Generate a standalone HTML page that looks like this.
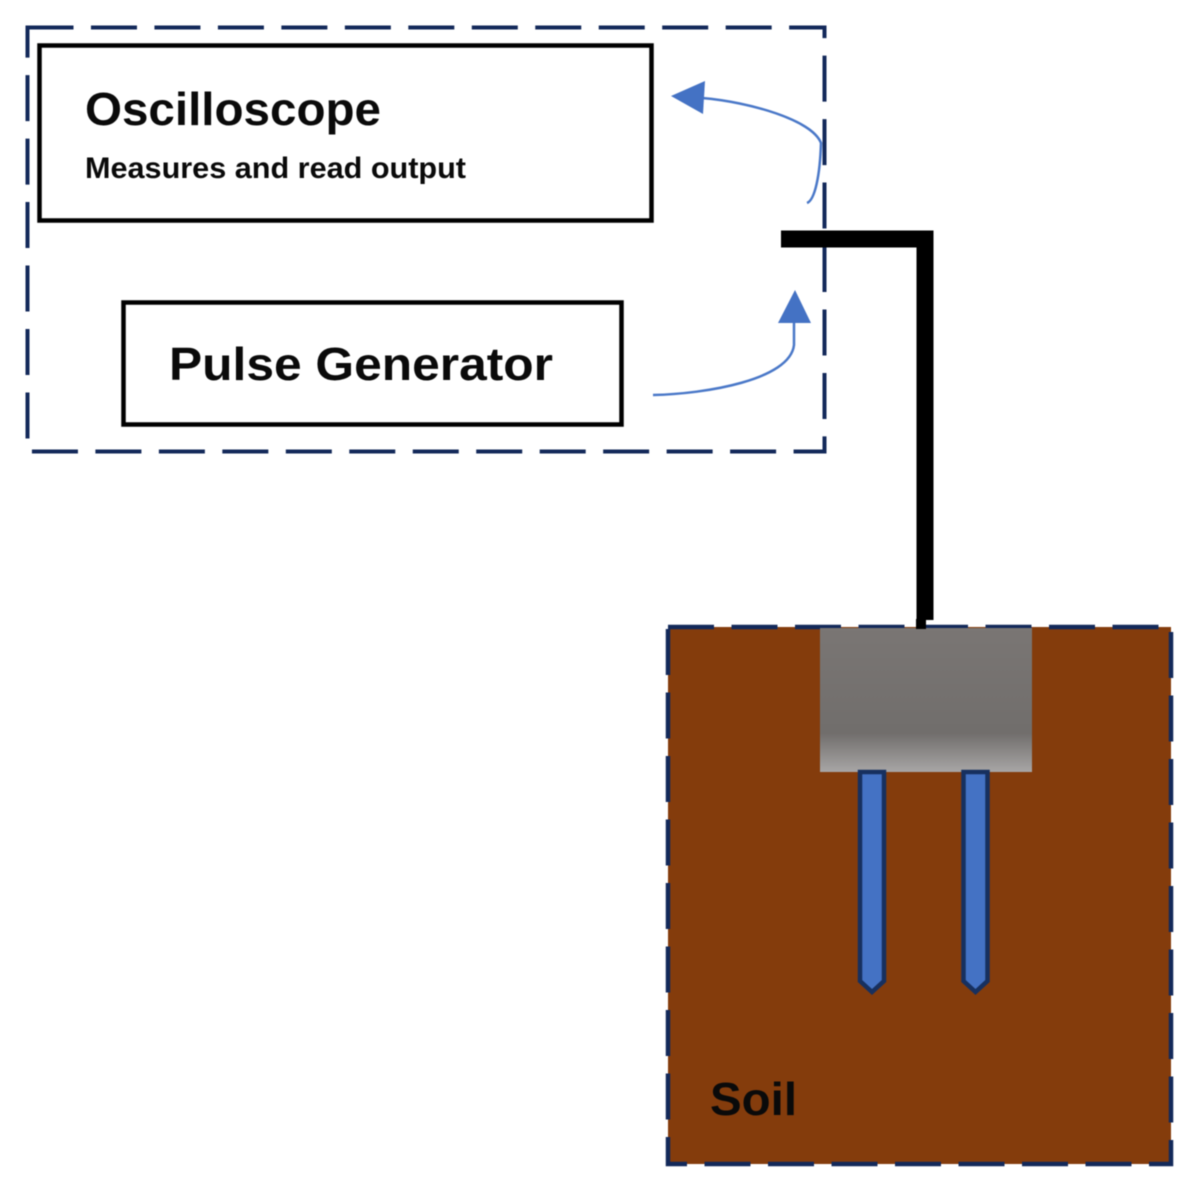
<!DOCTYPE html>
<html>
<head>
<meta charset="utf-8">
<style>
html,body{margin:0;padding:0;background:#fff;}
svg{display:block;filter:blur(0.6px);}
text{font-family:"Liberation Sans",sans-serif;font-weight:bold;fill:#0a0a0a;}
</style>
</head>
<body>
<svg width="1200" height="1193" viewBox="0 0 1200 1193" xmlns="http://www.w3.org/2000/svg">
<defs>
<linearGradient id="g" x1="0" y1="0" x2="0" y2="1">
<stop offset="0" stop-color="#7a7674"/>
<stop offset="0.73" stop-color="#716e6c"/>
<stop offset="1" stop-color="#a8a6a6"/>
</linearGradient>
</defs>
<rect width="1200" height="1193" fill="#fff"/>
<!-- dashed top group -->
<rect x="27.5" y="27.5" width="797" height="424" fill="none" stroke="#13295a" stroke-width="4" stroke-dasharray="46 17.47"/>
<!-- boxes -->
<rect x="39.5" y="45.5" width="612" height="175" fill="#fff" stroke="#000" stroke-width="4.5"/>
<rect x="123.5" y="302.5" width="498" height="122" fill="#fff" stroke="#000" stroke-width="4.5"/>
<text x="85" y="125" font-size="46" textLength="296" lengthAdjust="spacingAndGlyphs">Oscilloscope</text>
<text x="85" y="178" font-size="30" textLength="381" lengthAdjust="spacingAndGlyphs">Measures and read output</text>
<text x="169" y="380" font-size="46" textLength="384" lengthAdjust="spacingAndGlyphs">Pulse Generator</text>
<!-- arrows -->
<path d="M807 203 C815 200 820 175 821 143 C812 120 750 102 702 98" fill="none" stroke="#4a78c8" stroke-width="2.5"/>
<polygon points="671,96 705,81 703,114" fill="#4472c4"/>
<path d="M653 395 C705 394 790 380 794 345 L794 322" fill="none" stroke="#4a78c8" stroke-width="2.5"/>
<polygon points="795,290 811,323 778,323" fill="#4472c4"/>
<!-- soil -->
<rect x="668" y="627" width="503" height="537" fill="#843c0c"/>
<rect x="668" y="627" width="503" height="537" fill="none" stroke="#13295a" stroke-width="4.5" stroke-dasharray="46 17.5"/>
<!-- probe head -->
<rect x="820" y="628" width="212" height="144" fill="url(#g)"/>
<!-- black cable -->
<path d="M781 239 H925 V620" fill="none" stroke="#000" stroke-width="17"/>
<rect x="916" y="619" width="10" height="10" fill="#000"/>
<!-- prongs -->
<polygon points="860,772 884,772 884,981 872,992 860,981" fill="#4472c4" stroke="#17305f" stroke-width="4.5"/>
<polygon points="963.5,772 987.5,772 987.5,981 975.5,992 963.5,981" fill="#4472c4" stroke="#17305f" stroke-width="4.5"/>
<text x="710" y="1115" font-size="46" textLength="87" lengthAdjust="spacingAndGlyphs">Soil</text>
</svg>
</body>
</html>
